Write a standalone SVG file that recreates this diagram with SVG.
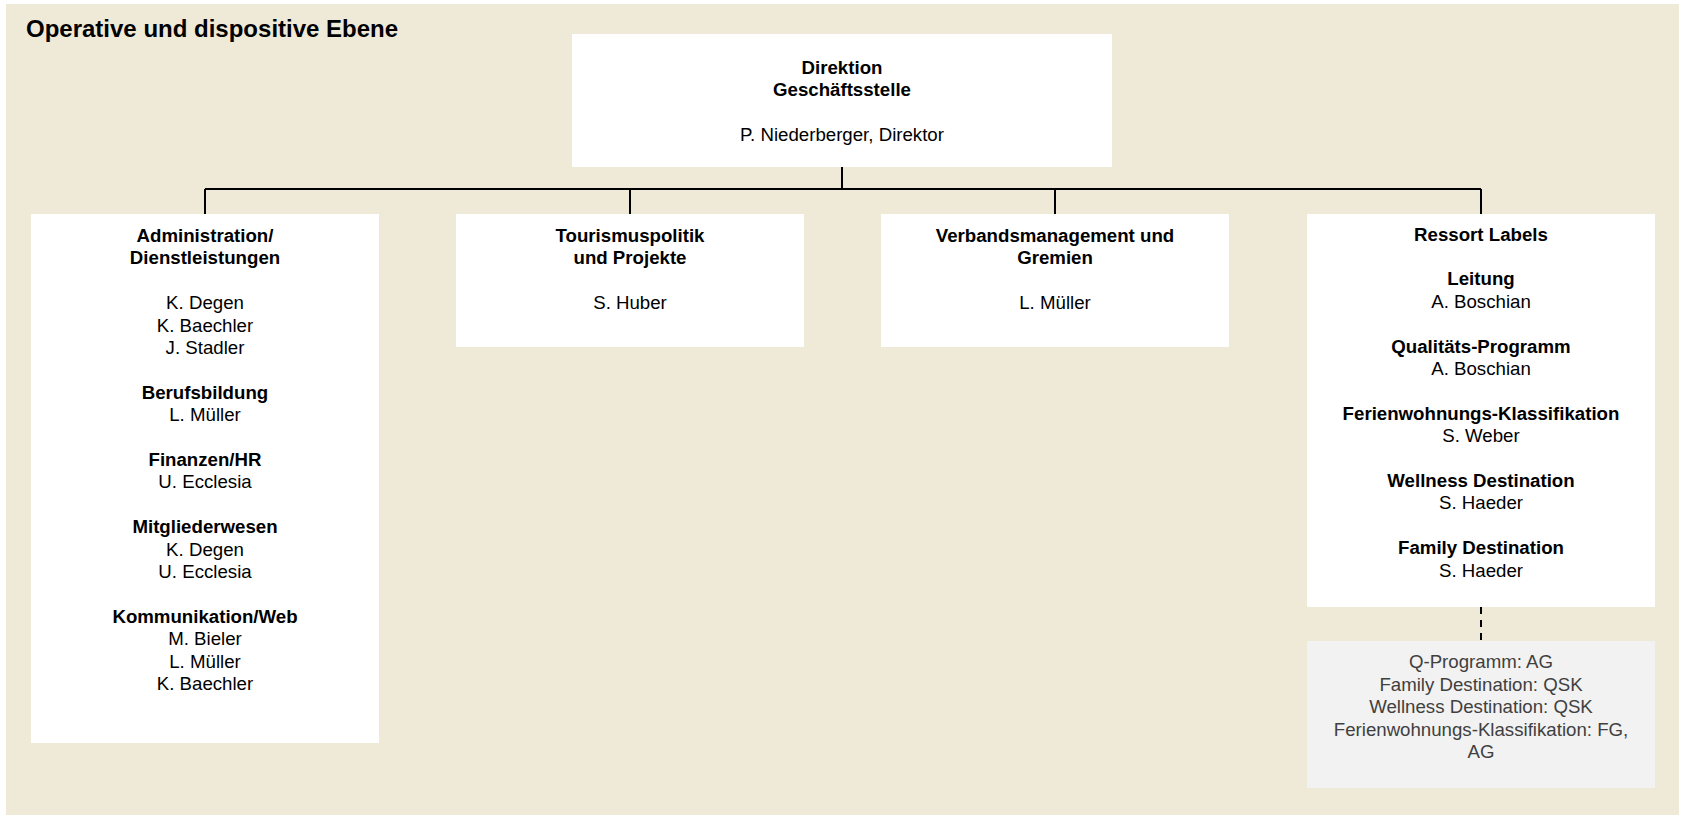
<svg xmlns="http://www.w3.org/2000/svg" width="1682" height="815" viewBox="0 0 1682 815">
<style>
text{font-family:"Liberation Sans",Arial,sans-serif;font-size:18.67px;fill:#000;text-anchor:middle}
.b{font-weight:bold}
.title{font-size:24px;font-weight:bold;text-anchor:start}
.box{fill:#fff}
.note{fill:#f2f2f2}
.nt{fill:#404040}
.con{stroke:#000;stroke-width:2;fill:none}
.dash{stroke:#000;stroke-width:2;fill:none;stroke-dasharray:7 6}
</style>
<rect x="0" y="0" width="1682" height="815" fill="#fff"/>
<rect x="6" y="4" width="1673" height="811" fill="#efe9d8"/>
<text class="title" x="26" y="36.5">Operative und dispositive Ebene</text>
<g id="connectors">
<path class="con" d="M842 167V189M205 189H1481M205 189V214M630 189V214M1055 189V214M1481 189V214"/>
<path class="dash" d="M1481 607V641"/>
</g>
<g id="direktion">
<rect class="box" x="572" y="34" width="540" height="133"/>
<text class="b" x="842" y="74">Direktion</text>
<text class="b" x="842" y="96.4">Geschäftsstelle</text>
<text x="842" y="141.2">P. Niederberger, Direktor</text>
</g>
<g id="administration">
<rect class="box" x="31" y="214" width="348" height="529"/>
<text class="b" x="205" y="242">Administration/</text>
<text class="b" x="205" y="264.4">Dienstleistungen</text>
<text x="205" y="309.2">K. Degen</text>
<text x="205" y="331.6">K. Baechler</text>
<text x="205" y="354">J. Stadler</text>
<text class="b" x="205" y="398.8">Berufsbildung</text>
<text x="205" y="421.2">L. Müller</text>
<text class="b" x="205" y="466">Finanzen/HR</text>
<text x="205" y="488.4">U. Ecclesia</text>
<text class="b" x="205" y="533.2">Mitgliederwesen</text>
<text x="205" y="555.6">K. Degen</text>
<text x="205" y="578">U. Ecclesia</text>
<text class="b" x="205" y="622.8">Kommunikation/Web</text>
<text x="205" y="645.2">M. Bieler</text>
<text x="205" y="667.6">L. Müller</text>
<text x="205" y="690">K. Baechler</text>
</g>
<g id="tourismuspolitik">
<rect class="box" x="456" y="214" width="348" height="133"/>
<text class="b" x="630" y="242">Tourismuspolitik</text>
<text class="b" x="630" y="264.4">und Projekte</text>
<text x="630" y="309.2">S. Huber</text>
</g>
<g id="verbandsmanagement">
<rect class="box" x="881" y="214" width="348" height="133"/>
<text class="b" x="1055" y="242">Verbandsmanagement und</text>
<text class="b" x="1055" y="264.4">Gremien</text>
<text x="1055" y="309.2">L. Müller</text>
</g>
<g id="ressort-labels">
<rect class="box" x="1307" y="214" width="348" height="393"/>
<text class="b" x="1481" y="240.5">Ressort Labels</text>
<text class="b" x="1481" y="285.3">Leitung</text>
<text x="1481" y="307.7">A. Boschian</text>
<text class="b" x="1481" y="352.5">Qualitäts-Programm</text>
<text x="1481" y="374.9">A. Boschian</text>
<text class="b" x="1481" y="419.7">Ferienwohnungs-Klassifikation</text>
<text x="1481" y="442.1">S. Weber</text>
<text class="b" x="1481" y="486.9">Wellness Destination</text>
<text x="1481" y="509.3">S. Haeder</text>
<text class="b" x="1481" y="554.1">Family Destination</text>
<text x="1481" y="576.5">S. Haeder</text>
</g>
<g id="gremien-note">
<rect class="note" x="1307" y="641" width="348" height="147"/>
<text class="nt" x="1481" y="668.3">Q-Programm: AG</text>
<text class="nt" x="1481" y="690.7">Family Destination: QSK</text>
<text class="nt" x="1481" y="713.1">Wellness Destination: QSK</text>
<text class="nt" x="1481" y="735.5">Ferienwohnungs-Klassifikation: FG,</text>
<text class="nt" x="1481" y="757.9">AG</text>
</g>
</svg>
